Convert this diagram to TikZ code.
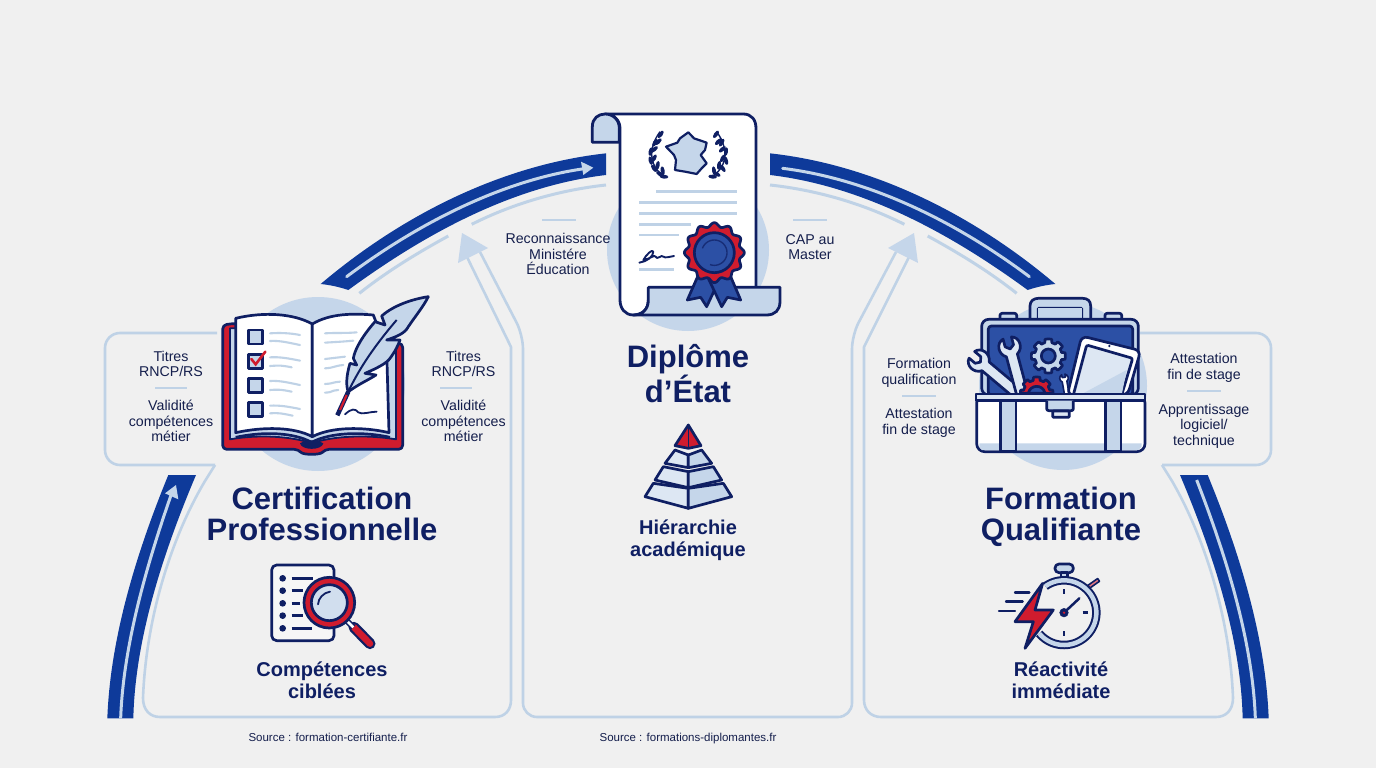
\documentclass[tikz,border=0pt]{standalone}
\usepackage{fontspec}
\setmainfont{Liberation Sans}
\definecolor{bgc}{HTML}{F0F0F0}
\definecolor{navy}{HTML}{0F1F63}
\definecolor{royal}{HTML}{0E3A9A}
\definecolor{midb}{HTML}{2C50A5}
\definecolor{pale}{HTML}{C5D6EA}
\definecolor{paler}{HTML}{DDE7F3}
\definecolor{linec}{HTML}{BFD2E6}
\definecolor{redc}{HTML}{D01C2E}
\definecolor{txt}{HTML}{141E4C}
\tikzset{
  body/.style={text=txt,align=center,font=\fontsize{14.2}{15.6}\selectfont,inner sep=0pt},
  title/.style={text=navy,align=center,font=\fontsize{31}{31.5}\selectfont\bfseries,inner sep=0pt},
  subt/.style={text=navy,align=center,font=\fontsize{20}{22}\selectfont\bfseries,inner sep=0pt},
  src/.style={text=txt,font=\fontsize{11.5}{13}\selectfont,inner sep=0pt,anchor=base},
  divider/.style={draw=linec,line width=1.6pt},
  panel/.style={draw=linec,line width=2.6pt,line join=round},
  thin/.style={draw=linec,line width=3pt},
  band/.style={fill=royal,draw=none},
  inner/.style={draw=pale,line width=3pt,line cap=round},
  ink/.style={draw=navy,line width=2.7pt,line join=round},
  zs/.style={x=0.33333pt,y=-0.33333pt},
  ll/.style={draw=linec,line width=2.1pt,line cap=round}
}
\begin{document}
\begin{tikzpicture}[x=1pt,y=-1pt]
\useasboundingbox (0,0) rectangle (1376,768);
\fill[bgc] (0,0) rectangle (1376,768);
% discs
\fill[pale] (318,384) circle (87);
\fill[pale] (688,250) circle (81);
\fill[pale] (1063,386) circle (84);
% panels
\draw[panel,rounded corners=15] (217,333) -- (105,333) -- (105,465) -- (215,465);
\draw[panel] (215,465) -- (205,481) .. controls (170,540) and (146,620) .. (143,698) .. controls (143,710) and (150,717) .. (160,717) -- (495,717) .. controls (505,717) and (511,710) .. (511,700) -- (511,347) -- (467,257);
\draw[panel,rounded corners=14] (480,252) -- (523,335) -- (523,717) -- (852,717) -- (852,335) -- (896,252);
\draw[panel,rounded corners=15] (1140,333) -- (1271,333) -- (1271,465) -- (1162,465);
\draw[panel] (1162,465) -- (1172,481) .. controls (1206,540) and (1230,620) .. (1233,698) .. controls (1233,710) and (1226,717) .. (1216,717) -- (881,717) .. controls (871,717) and (864,710) .. (864,700) -- (864,347) -- (909,257);
\fill[pale] (462,233) -- (488,248) -- (458,263) -- cycle;
\fill[pale] (914,233) -- (888,248) -- (918,263) -- cycle;
% top bands (zoom coordinates of the crop at 300,140)
\begin{scope}[shift={(300,140)},zs]
\fill[band] (62,432) .. controls (300,230) and (600,75) .. (918,40) -- (918,105) .. controls (620,140) and (350,300) .. (145,450) .. controls (115,440) and (90,435) .. (62,432) -- cycle;
\draw[inner] (140,410) .. controls (340,260) and (600,120) .. (860,85);
\fill[pale] (880,83) -- (843,65) -- (850,105) -- cycle;
\draw[thin] (178,460) .. controls (260,395) and (350,340) .. (445,288);
\draw[thin] (515,253) .. controls (640,190) and (780,150) .. (918,135);
\end{scope}
\begin{scope}[shift={(1076,140)},x=-0.33333pt,y=-0.33333pt]
\fill[band] (62,432) .. controls (300,230) and (600,75) .. (918,40) -- (918,105) .. controls (620,140) and (350,300) .. (145,450) .. controls (115,440) and (90,435) .. (62,432) -- cycle;
\draw[inner] (140,410) .. controls (340,260) and (600,120) .. (880,85);
\draw[thin] (178,460) .. controls (260,395) and (350,340) .. (445,288);
\draw[thin] (515,253) .. controls (640,190) and (780,150) .. (918,135);
\end{scope}
% lower bands
\begin{scope}[shift={(90,460)},zs]
\fill[band] (52,775) .. controls (60,550) and (130,300) .. (235,45) -- (318,45) .. controls (210,300) and (135,550) .. (130,775) -- cycle;
\draw[inner,line cap=butt] (92,775) .. controls (100,550) and (175,300) .. (245,100);
\fill[pale] (258,75) -- (225,100) -- (265,118) -- cycle;
\end{scope}
\begin{scope}[shift={(1286,460)},x=-0.33333pt,y=-0.33333pt]
\fill[band] (52,775) .. controls (60,550) and (130,300) .. (235,45) -- (318,45) .. controls (210,300) and (135,550) .. (130,775) -- cycle;
\draw[inner,line cap=butt] (92,775) .. controls (100,550) and (175,300) .. (268,60);
\end{scope}
% ---------- book
\begin{scope}[shift={(90,280)},zs]
\filldraw[ink,fill=redc,rounded corners=4] (435,130) -- (398,135) -- (398,508) -- (625,508) .. controls (640,525) and (690,525) .. (705,508) -- (938,508) -- (938,190) -- (800,190) -- cycle;
\filldraw[ink,fill=pale,line width=1.8pt] (420,145) -- (420,478) .. controls (510,462) and (610,470) .. (665,490) .. controls (720,470) and (820,462) .. (918,478) -- (918,195) -- (800,195) -- (800,145) -- cycle;
\filldraw[ink,fill=white] (437,115) .. controls (520,95) and (610,100) .. (667,132) -- (667,470) .. controls (610,440) and (520,440) .. (437,458) -- cycle;
\filldraw[ink,fill=white] (667,132) .. controls (720,100) and (790,100) .. (850,105) -- (890,210) -- (897,458) .. controls (820,440) and (725,440) .. (667,470) -- cycle;
\draw[ink] (437,472) .. controls (520,454) and (610,457) .. (665,487) .. controls (720,457) and (820,454) .. (900,472);
\fill[navy] (630,490) .. controls (650,478) and (680,478) .. (700,490) .. controls (695,512) and (635,512) .. (630,490) -- cycle;
\foreach \yy in {150,223,295,367}{\filldraw[ink,fill=pale] (475,\yy) rectangle (518,\yy+42);}
\draw[redc,line width=2.6pt,line cap=round] (484,237) -- (497,253) -- (526,215);
\foreach \a/\b/\c/\e in {160/540/630/165,183/540/630/195,232/540/630/242,258/540/605/262,303/540/630/315,330/540/605/335,377/540/630/387,400/540/608/407}{\draw[ll] (\b,\a) .. controls (\b+30,\a-2) and (\c-30,\e-6) .. (\c,\e);}
\foreach \a/\b/\c/\e in {160/705/800/157,188/705/790/182,237/705/765/230,265/705/760/255,312/705/750/305,338/705/745/330}{\draw[ll] (\b,\a) .. controls (\b+30,\a-2) and (\c-30,\e+3) .. (\c,\e);}
\draw[navy,line width=1.8pt,line cap=round] (765,403) .. controls (785,385) and (795,385) .. (805,397) .. controls (815,405) and (840,395) .. (860,395);
% feather
\filldraw[ink,fill=pale] (1015,50) .. controls (950,60) and (900,85) .. (875,108) -- (885,135) -- (855,125) .. controls (820,165) and (795,205) .. (790,235) -- (800,255) -- (780,250) .. controls (768,290) and (768,320) .. (775,335) .. controls (810,310) and (835,300) .. (858,285) -- (825,280) .. controls (860,265) and (890,250) .. (900,235) .. controls (915,215) and (925,195) .. (930,180) -- (890,180) .. controls (920,170) and (945,160) .. (955,140) .. controls (975,110) and (1000,80) .. (1015,50) -- cycle;
\draw[navy,line width=2pt] (775,335) .. controls (810,260) and (860,190) .. (920,120);
\draw[navy,line width=4.5pt] (775,335) -- (742,406);
\draw[redc,line width=2.2pt] (770,345) -- (750,390);
\end{scope}
% ---------- diploma
\begin{scope}[shift={(490,100)},zs]
\filldraw[ink,fill=white,line width=2.8pt] (345,42) -- (760,42) .. controls (785,42) and (798,60) .. (798,85) -- (798,600) -- (475,600) .. controls (475,630) and (455,645) .. (430,645) .. controls (405,645) and (390,625) .. (390,600) -- (390,85) .. controls (390,60) and (370,42) .. (345,42) -- cycle;
\filldraw[ink,fill=pale,line width=2.8pt] (388,127) -- (307,127) -- (307,80) .. controls (307,55) and (325,42) .. (345,42) .. controls (370,42) and (388,60) .. (388,85) -- cycle;
\filldraw[ink,fill=pale,line width=2.8pt] (475,562) -- (870,562) -- (870,605) .. controls (870,630) and (855,645) .. (830,645) -- (430,645) .. controls (455,645) and (475,630) .. (475,600) -- cycle;
\filldraw[ink,fill=pale,line width=2.2pt] (528,140) -- (562,128) -- (570,115) -- (595,97) -- (612,115) -- (650,128) -- (645,150) -- (632,165) -- (650,190) -- (635,205) -- (620,222) -- (585,215) -- (555,210) -- (558,180) -- (552,165) -- cycle;
\foreach \sx in {0,1}{
 \begin{scope}[shift={(\sx*1190,0)},x={(\sx*-0.66667pt+0.33333pt,0pt)}]
 \draw[navy,line width=1.4pt] (528,232) .. controls (480,205) and (470,150) .. (510,95);
 \foreach \px/\py/\an in {512/103/55,495/128/60,482/155/80,482/182/105,492/205/125,510/222/150,522/230/175,505/125/45,493/148/40,492/175/60,503/196/80,518/212/100}{
   \fill[navy] (\px,\py) ellipse [x radius=13,y radius=6,rotate=\an];}
 \end{scope}}
\foreach \yy/\a/\b in {275/498/740,308/447/740,340/447/740,373/447/603,405/447/568,509/447/553}{\draw[draw=linec,line width=2.4pt] (\a,\yy) -- (\b,\yy);}
\draw[navy,line width=1.9pt,line cap=round,line join=round] (448,488) .. controls (470,485) and (490,470) .. (490,455) .. controls (488,445) and (468,465) .. (460,480) .. controls (478,478) and (495,462) .. (497,470) .. controls (500,482) and (515,462) .. (520,470) .. controls (525,475) and (540,470) .. (552,468);
% ribbons
\filldraw[ink,fill=midb] (625,525) -- (592,600) -- (632,592) -- (650,620) -- (690,535) -- cycle;
\filldraw[ink,fill=midb] (720,525) -- (752,600) -- (712,592) -- (695,620) -- (655,535) -- cycle;
\filldraw[ink,fill=redc] plot[domain=0:360,samples=145,smooth] ({673+(84+6*cos(12*\x))*cos(\x)},{458+(84+6*cos(12*\x))*sin(\x)}) -- cycle;
\filldraw[ink,fill=midb] (673,458) circle (60);
\draw[navy,line width=1.4pt,opacity=.7] plot[domain=200:470,samples=40] ({673+38*cos(\x)},{458+38*sin(\x)});
\end{scope}
% ---------- toolbox
\begin{scope}[shift={(860,280)},zs]
\filldraw[ink,fill=pale] (510,120) -- (510,78) .. controls (510,62) and (522,55) .. (535,55) -- (668,55) .. controls (682,55) and (692,62) .. (692,78) -- (692,120) -- (665,120) -- (665,85) -- (535,85) -- (535,120) -- cycle;
\fill[pale] (535,85) rectangle (665,118);
\filldraw[ink,fill=pale,rounded corners=2] (420,120) -- (420,100) -- (470,100) -- (470,120);
\filldraw[ink,fill=pale,rounded corners=2] (735,120) -- (735,100) -- (785,100) -- (785,120);
\filldraw[ink,fill=pale,rounded corners=7] (365,345) -- (365,118) -- (835,118) -- (835,345) -- cycle;
\filldraw[ink,fill=midb,rounded corners=3] (385,345) -- (385,138) -- (818,138) -- (818,345) -- cycle;
% gear
\filldraw[ink,fill=pale] plot[domain=0:360,samples=97] ({565+(41+10*(cos(8*\x)>-0.1))*cos(\x)},{228+(41+10*(cos(8*\x)>-0.1))*sin(\x)}) -- cycle;
\filldraw[ink,fill=midb] (565,228) circle (21);
% wrenches
\begin{scope}[shift={(360,245)},rotate=50]
\filldraw[ink,fill=paler] (-13,-32) .. controls (-36,-26) and (-40,8) .. (-17,22) -- (-17,150) -- (17,150) -- (17,22) .. controls (40,8) and (36,-26) .. (13,-32) -- (13,-8) -- (0,2) -- (-13,-8) -- cycle;
\end{scope}
\begin{scope}[shift={(450,205)},rotate=15]
\filldraw[ink,fill=paler] (-13,-32) .. controls (-36,-26) and (-40,8) .. (-17,22) -- (-17,150) -- (17,150) -- (17,22) .. controls (40,8) and (36,-26) .. (13,-32) -- (13,-8) -- (0,2) -- (-13,-8) -- cycle;
\end{scope}
% red gear
\filldraw[ink,fill=redc] plot[domain=180:360,samples=49] ({530+(40+9*(cos(8*\x)>-0.1))*cos(\x)},{340+(40+9*(cos(8*\x)>-0.1))*sin(\x)}) -- cycle;
\filldraw[ink,fill=midb] (505,340) .. controls (510,312) and (550,312) .. (555,340) -- cycle;
% small wrench
\begin{scope}[shift={(612,295)},rotate=10]
\filldraw[ink,fill=white,line width=1.6pt] (-5,-12) .. controls (-15,-8) and (-15,5) .. (-7,10) -- (-7,50) -- (7,50) -- (7,10) .. controls (15,5) and (15,-8) .. (5,-12) -- (5,-3) -- (-5,-3) -- cycle;
\end{scope}
% tablet
\filldraw[ink,fill=white,rounded corners=6] (622,345) -- (665,168) -- (842,212) -- (803,345) -- cycle;
\filldraw[ink,fill=paler,rounded corners=2] (640,345) -- (680,195) -- (818,235) -- (785,345) -- cycle;
\fill[pale] (660,345) -- (800,270) -- (785,345) -- cycle;
\fill[navy] (748,198) circle (4);
% box
\filldraw[ink,fill=white,rounded corners=8] (350,345) -- (350,515) -- (855,515) -- (855,345) -- cycle;
\fill[pale] (358,490) -- (845,490) -- (845,500) -- (835,510) -- (365,510) -- (358,500) -- cycle;
\filldraw[ink,fill=pale] (422,362) rectangle (468,514);
\filldraw[ink,fill=pale] (737,362) rectangle (783,514);
\filldraw[ink,fill=paler] (348,342) rectangle (855,362);
\filldraw[ink,fill=pale,rounded corners=2] (560,362) -- (560,392) -- (640,392) -- (640,362);
\filldraw[ink,fill=paler,rounded corners=1] (578,393) rectangle (628,412);
\end{scope}
% ---------- pyramid
\begin{scope}[shift={(620,415)},zs]
\filldraw[ink,fill=redc] (205,30) -- (243,92) -- (205,100) -- (165,92) -- cycle;
\draw[navy,line width=1.5pt] (205,30) -- (205,100);
\foreach \tx/\ty/\bx/\by/\cy in {
 165/105/135/145/158,
 130/155/105/195/218,
 100/205/75/245/280}{
  \filldraw[ink,fill=paler] (\tx,\ty) -- (205,\ty+15) -- (205,\cy) -- (\bx,\by) -- cycle;
  \filldraw[ink,fill=pale] (410-\tx,\ty) -- (205,\ty+15) -- (205,\cy) -- (410-\bx,\by) -- cycle;}
\end{scope}
% ---------- magnifier
\begin{scope}[shift={(250,550)},zs]
\filldraw[ink,fill=bgc!60!white,rounded corners=5] (65,45) rectangle (252,272);
\foreach \yy/\e in {85/190,122/158,160/150,197/158,235/185}{
  \fill[navy] (98,\yy) circle (10);
  \draw[navy,line width=2.4pt] (125,\yy) -- (\e,\yy);}
\draw[navy,line width=11pt,line cap=round] (312,232) -- (360,281);
\draw[redc,line width=6.5pt,line cap=round] (312,232) -- (360,281);
\draw[navy,line width=6pt] (290,212) -- (310,232);
\draw[white,line width=2.5pt] (290,212) -- (310,232);
\filldraw[ink,fill=redc] (238,158) circle (76);
\filldraw[ink,fill=pale!80!white] (238,158) circle (54);
\draw[navy,line width=1.8pt,line cap=round] (204,163) .. controls (205,145) and (220,128) .. (240,125);
\end{scope}
% ---------- stopwatch
\begin{scope}[shift={(980,550)},zs]
\filldraw[ink,fill=pale,rounded corners=4] (225,42) rectangle (280,68);
\filldraw[ink,fill=pale] (243,68) rectangle (263,85);
\draw[navy,line width=2.4pt] (325,112) -- (336,103);
\begin{scope}[shift={(341,100)},rotate=35]
\filldraw[ink,fill=redc!60!white,line width=1.6pt] (-18,-5) rectangle (18,5);
\end{scope}
\draw[navy,line width=8.5pt] plot[domain=-125:140,samples=80] ({252+97*cos(\x)},{188+97*sin(\x)});
\draw[pale,line width=4.5pt] plot[domain=-125:140,samples=80] ({252+97*cos(\x)},{188+97*sin(\x)});
\draw[navy,line width=2.5pt] (252,118) -- (252,132);
\draw[navy,line width=2.5pt] (252,243) -- (252,258);
\draw[navy,line width=2.5pt] (308,188) -- (324,188);
\draw[navy,line width=2.5pt,line cap=round] (252,188) -- (298,145);
\filldraw[navy] (252,188) circle (13);
\fill[redc] (252,188) circle (4);
\foreach \a/\b/\yy in {105/148/127,78/128/155,57/105/183}{\draw[navy,line width=2.4pt,line cap=round] (\a,\yy) -- (\b,\yy);}
\filldraw[ink,fill=redc] (188,100) -- (105,215) -- (160,215) -- (135,295) -- (220,180) -- (165,180) -- cycle;
\end{scope}
% ---------- dividers
\draw[divider] (155,388) -- (187,388);
\draw[divider] (440,388) -- (472,388);
\draw[divider] (542,220) -- (576,220);
\draw[divider] (793,220) -- (827,220);
\draw[divider] (902,396) -- (936,396);
\draw[divider] (1187,391) -- (1221,391);
% ---------- texts
\node[body] (t1) at (171,364) {Titres\\RNCP/RS};
\node[body] (t2) at (171,421) {Validité\\compétences\\métier};
\node[body] (t3) at (463.5,364) {Titres\\RNCP/RS};
\node[body] (t4) at (463.5,421) {Validité\\compétences\\métier};
\node[body] (t5) at (558,254) {Reconnaissance\\Ministére\\Éducation};
\node[body] (t6) at (810,247) {CAP au\\Master};
\node[body] (t7) at (919,373) {Formation\\qualification};
\node[body] (t8) at (919,423) {Attestation\\fin de stage};
\node[body] (t9) at (1204,368) {Attestation\\fin de stage};
\node[body] (t10) at (1204,426) {Apprentissage\\logiciel/\\technique};
\node[title] (h1) at (322,514) {Certification\\Professionnelle};
\node[title] (h2) at (688,374) {Diplôme\\d’État};
\node[title] (h3) at (1061,517) {Formation\\Qualifiante};
\node[subt] (s1) at (322,680) {Compétences\\ciblées};
\node[subt] (s2) at (688,540) {Hiérarchie\\académique};
\node[subt] (s3) at (1061,680) {Réactivité\\immédiate};
\node[src] (r1) at (328,741) {Source : formation-certifiante.fr};
\node[src] (r2) at (688,741) {Source : formations-diplomantes.fr};
\end{tikzpicture}
\end{document}
